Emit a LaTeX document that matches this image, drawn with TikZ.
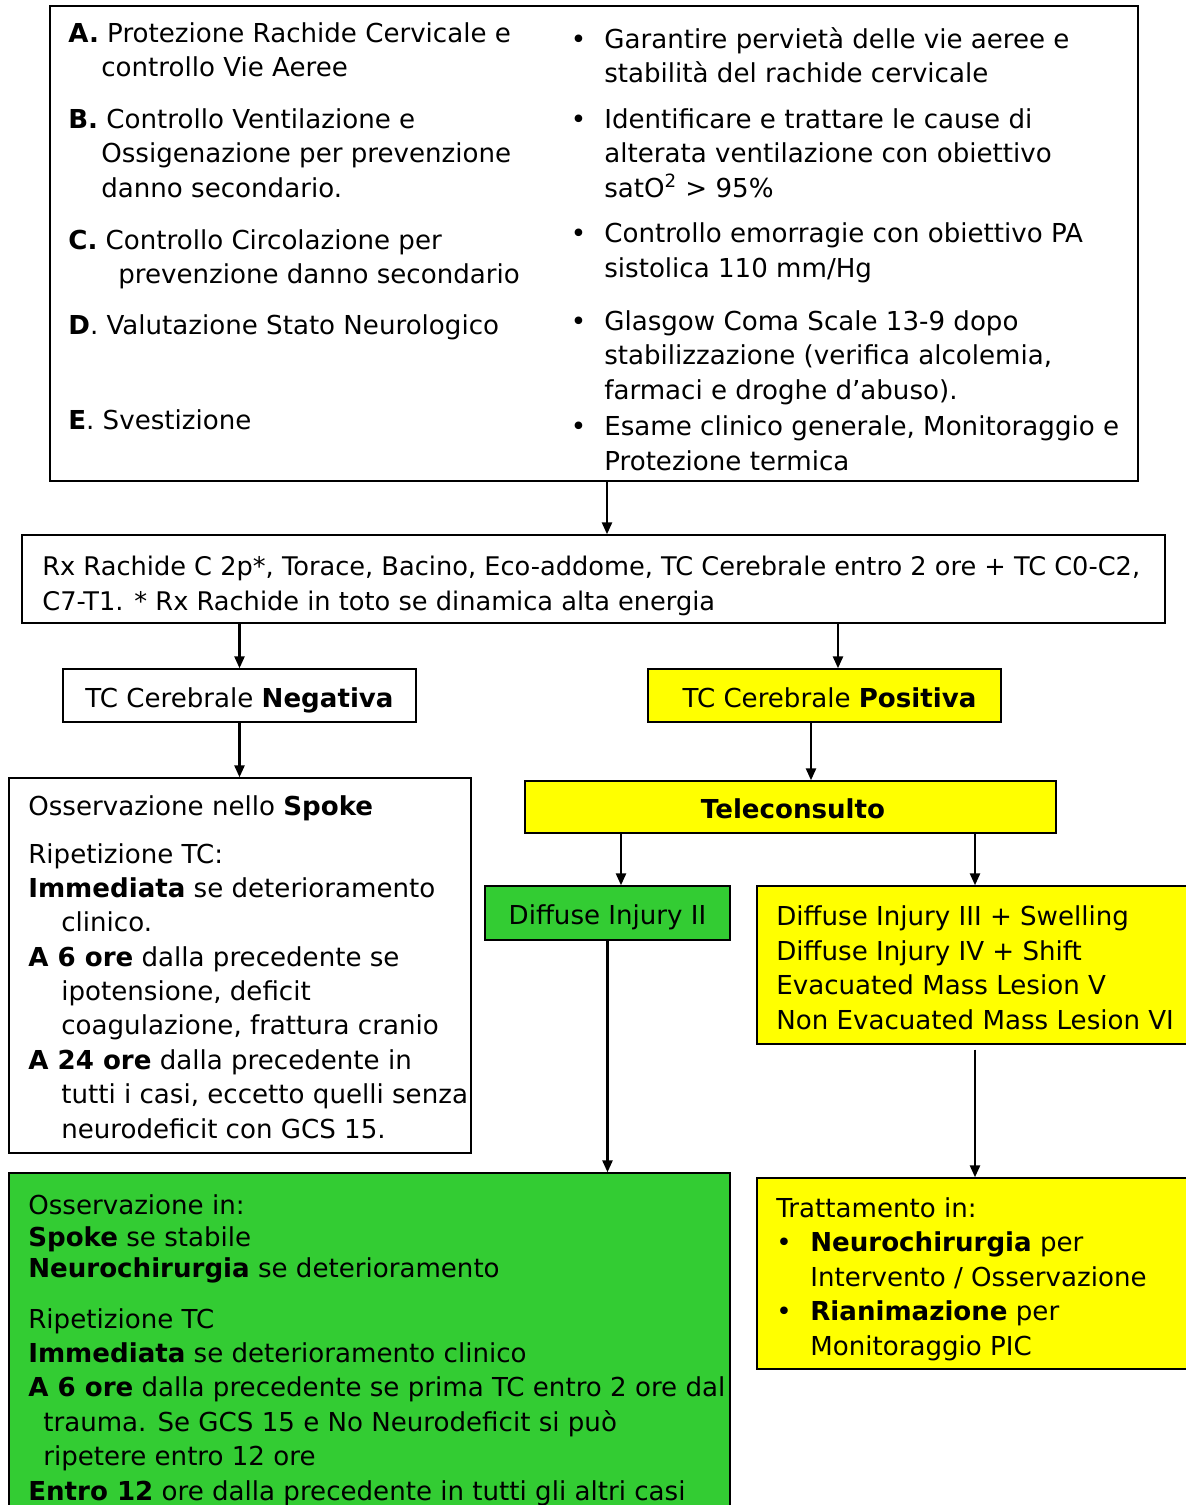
\documentclass[tikz,border=0pt]{standalone}
\usepackage{fontspec}
\setmainfont{DejaVu Sans}
\usetikzlibrary{arrows.meta}
\definecolor{giallo}{RGB}{255,255,0}
\definecolor{verde}{RGB}{51,204,51}
\newcommand{\pnt}{\llap{\textbullet\hspace{0.36cm}}}
\newcommand{\corpo}{\fontsize{14.85pt}{19.55pt}\selectfont}

\tikzset{
  every picture/.append style={x=0.02cm, y=-0.02cm},
  box/.style={draw, line width=0.8pt, inner sep=0pt, font=\corpo},
  riga/.style={box, text height=13.5pt, text depth=0pt},
  txt/.style={anchor=base west, align=left, inner sep=0pt, font=\corpo},
  freccia/.style={line width=1.4pt, -{Triangle[length=2.4mm, width=2mm]}},
}

\begin{document}
\begin{tikzpicture}
  \useasboundingbox (0,0) rectangle (1186,1505);
  \clip (0,0) rectangle (1186,1505);

  \node[box, minimum width=21.76cm, minimum height=9.5cm] (abcde) at (594,243.5) {};
  \node[txt] (voceA) at (68,76.5) {\textbf{A.} Protezione Rachide Cervicale e\\\hspace*{0.66cm}controllo Vie Aeree};
  \node[txt] (voceB) at (68,197) {\textbf{B.} Controllo Ventilazione e\\\hspace*{0.66cm}Ossigenazione per prevenzione\\\hspace*{0.66cm}danno secondario.};
  \node[txt] (voceC) at (68,283.5) {\textbf{C.} Controllo Circolazione per\\\hspace*{1cm}prevenzione danno secondario};
  \node[txt] (voceD) at (68,334) {\textbf{D}. Valutazione Stato Neurologico};
  \node[txt] (voceE) at (68,429) {\textbf{E}. Svestizione};
  \node[txt] (scopoA) at (604,82.5) {\pnt Garantire pervietà delle vie aeree e\\stabilità del rachide cervicale};
  \node[txt] (scopoB) at (604,197) {\pnt Identificare e trattare le cause di\\alterata ventilazione con obiettivo\\satO\textsuperscript{2} > 95\%};
  \node[txt] (scopoC) at (604,277) {\pnt Controllo emorragie con obiettivo PA\\sistolica 110 mm/Hg};
  \node[txt] (scopoD) at (604,399) {\pnt Glasgow Coma Scale 13-9 dopo\\stabilizzazione (verifica alcolemia,\\farmaci e droghe d’abuso).};
  \node[txt] (scopoE) at (604,470) {\pnt Esame clinico generale, Monitoraggio e\\Protezione termica};

  \node[box, minimum width=22.86cm, minimum height=1.76cm] (esami) at (593.5,579) {};
  \node[txt, font=\fontsize{14.6pt}{19.55pt}\selectfont] (esamitxt) at (42,610) {Rx Rachide C 2p*, Torace, Bacino, Eco-addome, TC Cerebrale entro 2 ore + TC C0-C2,\\C7-T1. * Rx Rachide in toto se dinamica alta energia};

  \node[riga, minimum width=7.06cm, minimum height=1.06cm] (neg) at (239.5,695.5) {TC Cerebrale \textbf{Negativa}};
  \node[riga, fill=giallo, minimum width=7.06cm, minimum height=1.06cm] (pos) at (824.5,695.5) {\hspace*{0.2cm}TC Cerebrale \textbf{Positiva}};

  \node[box, minimum width=9.24cm, minimum height=7.5cm] (spoke) at (240,965.5) {};
  \node[txt] (spoke1) at (28,815) {Osservazione nello \textbf{Spoke}};
  \node[txt] (spoke2) at (28,1138) {Ripetizione TC:\\\textbf{Immediata} se deterioramento\\\hspace*{0.66cm}clinico.\\\textbf{A 6 ore} dalla precedente se\\\hspace*{0.66cm}ipotensione, deficit\\\hspace*{0.66cm}coagulazione, frattura cranio\\\textbf{A 24 ore} dalla precedente in\\\hspace*{0.66cm}tutti i casi, eccetto quelli senza\\\hspace*{0.66cm}neurodeficit con GCS 15.};

  \node[riga, fill=giallo, minimum width=10.62cm, minimum height=1.04cm] (tele) at (790.5,807) {\hspace*{0.1cm}\textbf{Teleconsulto}};

  \node[riga, fill=verde, minimum width=4.9cm, minimum height=1.08cm] (dii) at (607.5,913) {Diffuse Injury II};
  \node[box, fill=giallo, minimum width=8.86cm, minimum height=3.16cm] (diii) at (978.5,965) {};
  \node[txt] (diiitxt) at (776,1029) {Diffuse Injury III + Swelling\\Diffuse Injury IV + Shift\\Evacuated Mass Lesion V\\Non Evacuated Mass Lesion VI};

  \node[box, fill=verde, minimum width=14.42cm, minimum height=7.14cm] (oss) at (369.5,1351.5) {};
  \node[txt] (oss1) at (28,1277) {Osservazione in:\\[-1.9pt]\textbf{Spoke} se stabile\\[-1.9pt]\textbf{Neurochirurgia} se deterioramento};
  \node[txt] (oss2) at (28,1500) {Ripetizione TC\\\textbf{Immediata} se deterioramento clinico\\\textbf{A 6 ore} dalla precedente se prima TC entro 2 ore dal\\\hspace*{0.3cm}trauma. Se GCS 15 e No Neurodeficit si può\\\hspace*{0.3cm}ripetere entro 12 ore\\\textbf{Entro 12} ore dalla precedente in tutti gli altri casi};

  \node[box, fill=giallo, minimum width=8.86cm, minimum height=3.82cm] (tratt) at (978.5,1273.5) {};
  \node[txt] (tratttxt) at (776,1355) {Trattamento in:\\\makebox[0.68cm][l]{\textbullet}\textbf{Neurochirurgia} per\\\hspace*{0.68cm}Intervento / Osservazione\\\makebox[0.68cm][l]{\textbullet}\textbf{Rianimazione} per\\\hspace*{0.68cm}Monitoraggio PIC};

  \draw[freccia] (abcde.south -| 607,0) -- (esami.north -| 607,0);
  \draw[freccia] (esami.south -| neg.north) -- (neg.north);
  \draw[freccia] (esami.south -| 838,0) -- (pos.north -| 838,0);
  \draw[freccia] (neg.south) -- (spoke.north -| neg.south);
  \draw[freccia] (pos.south -| 811,0) -- (tele.north -| 811,0);
  \draw[freccia] (tele.south -| 621,0) -- (dii.north -| 621,0);
  \draw[freccia] (tele.south -| 975,0) -- (diii.north -| 975,0);
  \draw[freccia] (dii.south) -- (oss.north -| dii.south);
  \draw[freccia] ([yshift=-0.1cm]diii.south -| 975,0) -- (tratt.north -| 975,0);
\end{tikzpicture}
\end{document}
